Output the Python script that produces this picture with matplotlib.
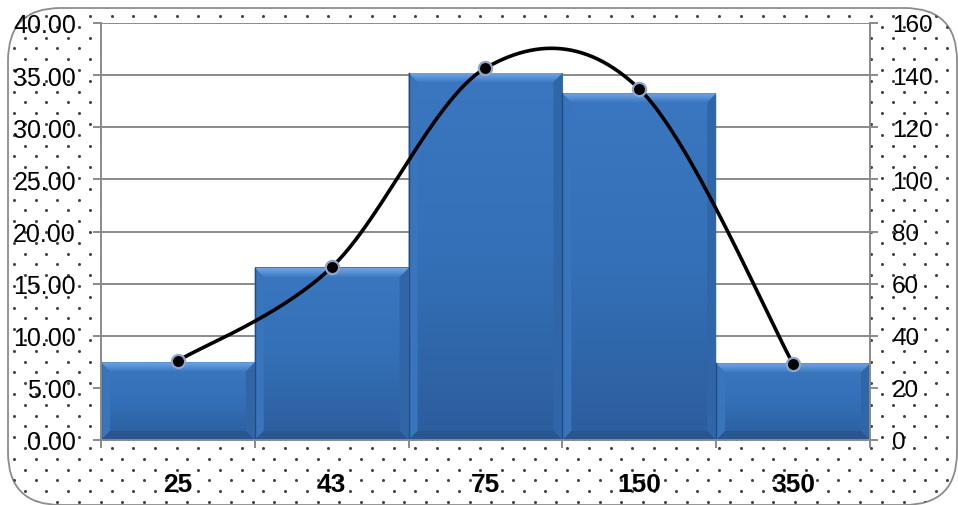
import numpy as np
import matplotlib
matplotlib.use("Agg")
import matplotlib.pyplot as plt
from matplotlib.patches import FancyBboxPatch, Polygon
from matplotlib.colors import LinearSegmentedColormap

plt.rcParams['font.family'] = ['Liberation Sans', 'DejaVu Sans']

# ---- data ----
categories = ["25", "43", "75", "150", "350"]
bar_values = [7.45, 16.5, 35.2, 33.25, 7.35]       # left axis
line_values = [30.4, 66.3, 142.7, 134.7, 29.2]     # right axis
left_ticks = [0, 5, 10, 15, 20, 25, 30, 35, 40]
right_ticks = [0, 20, 40, 60, 80, 100, 120, 140, 160]

W, H, DPI = 958, 506, 100
fig = plt.figure(figsize=(W / DPI, H / DPI), dpi=DPI)
fig.patch.set_facecolor("white")

# ---- chart frame: rounded border with dotted fill ----
def fx(px):
    return px / W

def fy(py):
    return 1 - py / H

frame = FancyBboxPatch((fx(8), fy(506)), fx(957) - fx(8), fy(9) - fy(506),
                       boxstyle="round,pad=0,rounding_size=0.055",
                       transform=fig.transFigure, facecolor="white",
                       edgecolor="#8c8c8c", linewidth=1.3, zorder=0,
                       mutation_aspect=W / H)
fig.patches.append(frame)

dx, dy = 21.7, 10.8
pts_x, pts_y = [], []
row = 0
yy = 17.0
while yy < H:
    off = 0 if row % 2 == 0 else dx / 2
    xx = 3.0 + off
    while xx < W:
        pts_x.append(xx)
        pts_y.append(yy)
        xx += dx
    yy += dy
    row += 1
dots = fig.add_artist(plt.Line2D([fx(p) for p in pts_x], [fy(p) for p in pts_y],
                                 transform=fig.transFigure, linestyle="none",
                                 marker="o", markersize=2.2, color="#444444",
                                 markeredgewidth=0, zorder=0.5))
dots.set_clip_path(frame)

# ---- axes ----
ax_l, ax_r, ax_t, ax_b = 101, 870, 24, 441
ax = fig.add_axes([fx(ax_l), fy(ax_b), fx(ax_r) - fx(ax_l), fy(ax_t) - fy(ax_b)])
ax.set_facecolor("white")
ax.set_zorder(1)
ax2 = ax.twinx()
ax2.set_zorder(2)
ax2.patch.set_visible(False)

n = len(categories)
x = np.arange(n)
ax.set_xlim(-0.5, n - 0.5)
ax.set_ylim(0, 40)
ax2.set_ylim(0, 160)

grid_c = "#8a8a8a"
for t in left_ticks[1:]:
    ax.axhline(t, color=grid_c, linewidth=1.4, zorder=0.5)

# bars with gradient body and bevelled edges
ax_w_px = ax_r - ax_l
ax_h_px = ax_b - ax_t
bev = 9.0
bx = bev / ax_w_px * n
by = bev / ax_h_px * 40

body_cmap = LinearSegmentedColormap.from_list("body", ["#2c5d9d", "#3470b7", "#3a77c0"])
top_cmap = LinearSegmentedColormap.from_list("top", ["#3d7bc4", "#72a6e4"])
bars = ax.bar(x, bar_values, width=1.0, color="#3470b7", edgecolor="none", zorder=2)
for rect in bars:
    x0 = rect.get_x()
    x1 = x0 + rect.get_width()
    h = rect.get_height()
    grad = np.linspace(0, 1, 256).reshape(-1, 1)
    ax.imshow(grad, extent=(x0, x1, 0, h), origin="lower", cmap=body_cmap,
              aspect="auto", zorder=2.1, interpolation="bilinear")
    top = Polygon([(x0, h), (x1, h), (x1 - bx, h - by), (x0 + bx, h - by)],
                  closed=True, facecolor="none", edgecolor="none", zorder=2.3)
    ax.add_patch(top)
    im = ax.imshow(grad, extent=(x0, x1, h - by, h), origin="lower", cmap=top_cmap,
                   aspect="auto", zorder=2.3, interpolation="bilinear")
    im.set_clip_path(top)
    ax.add_patch(Polygon([(x0, 0), (x0, h), (x0 + bx, h - by), (x0 + bx, by)],
                         closed=True, facecolor="#3875bd", edgecolor="none", zorder=2.2))
    ax.add_patch(Polygon([(x1, 0), (x1, h), (x1 - bx, h - by), (x1 - bx, by)],
                         closed=True, facecolor="#3066a8", edgecolor="none", zorder=2.2))
    ax.add_patch(Polygon([(x0, 0), (x1, 0), (x1 - bx, by), (x0 + bx, by)],
                         closed=True, facecolor="#29568f", edgecolor="none", zorder=2.2))
    ax.plot([x0, x0], [0, h], color="#224b7e", linewidth=1.0, zorder=2.4)
ax.set_xlim(-0.5, n - 0.5)
ax.set_ylim(0, 40)

# smoothed line (Catmull-Rom in pixel space)
P = np.column_stack([(x + 0.5) / n * ax_w_px, np.array(line_values) / 160 * ax_h_px])
curve = []
for i in range(n - 1):
    p0 = P[max(i - 1, 0)]
    p1 = P[i]
    p2 = P[i + 1]
    p3 = P[min(i + 2, n - 1)]
    c1 = p1 + (p2 - p0) / 6.0
    c2 = p2 - (p3 - p1) / 6.0
    t = np.linspace(0, 1, 60)[:, None]
    seg = ((1 - t) ** 3) * p1 + 3 * ((1 - t) ** 2) * t * c1 + 3 * (1 - t) * t ** 2 * c2 + t ** 3 * p2
    curve.append(seg)
curve = np.vstack(curve)
cx = curve[:, 0] / ax_w_px * n - 0.5
cy = curve[:, 1] / ax_h_px * 160
ax2.plot(cx, cy, color="black", linewidth=2.6, zorder=3, solid_capstyle="round")
ax2.plot(x, line_values, linestyle="none", marker="o", markersize=9.5,
         markerfacecolor="black", markeredgecolor="#8fa6c8", markeredgewidth=1.6, zorder=4)
ax2.set_xlim(-0.5, n - 0.5)

# spines and ticks
for a in (ax, ax2):
    for s in a.spines.values():
        s.set_visible(False)
ax.spines["left"].set_visible(True)
ax.spines["left"].set_color(grid_c)
ax.spines["left"].set_linewidth(1.4)
ax.spines["bottom"].set_visible(True)
ax.spines["bottom"].set_color(grid_c)
ax.spines["bottom"].set_linewidth(1.4)
ax2.spines["right"].set_visible(True)
ax2.spines["right"].set_color(grid_c)
ax2.spines["right"].set_linewidth(1.4)

ax.set_yticks(left_ticks)
ax.set_yticklabels([f"{v:.2f}" for v in left_ticks], fontsize=18)
ax.tick_params(axis="y", length=6, width=1.4, color=grid_c, pad=12, labelcolor="black")
ax2.set_yticks(right_ticks)
ax2.set_yticklabels([str(v) for v in right_ticks], fontsize=17.5)
ax2.tick_params(axis="y", length=6, width=1.4, color=grid_c, pad=10, labelcolor="black")

ax.set_xticks(np.arange(n + 1) - 0.5, minor=False)
ax.set_xticklabels([])
ax.tick_params(axis="x", length=6, width=1.4, color=grid_c)
ax.set_xticks(x, minor=True)
ax.set_xticklabels(categories, minor=True, fontsize=19, fontweight="bold")
ax.tick_params(axis="x", which="minor", length=0, pad=23)

fig.savefig("out.png", dpi=DPI)
